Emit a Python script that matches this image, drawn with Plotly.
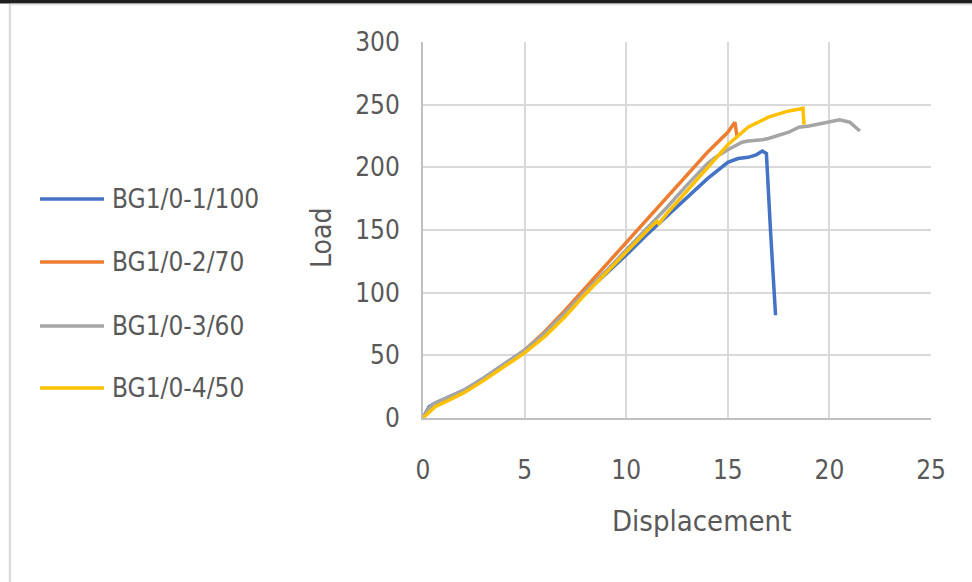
import plotly.graph_objects as go

# ---- data ----
series_names = ["BG1/0-1/100", "BG1/0-2/70", "BG1/0-3/60", "BG1/0-4/50"]

blue_x = [0, 0.3, 0.6, 1, 2, 3, 4, 5, 6, 7, 8, 9, 10, 11, 12, 13, 14, 15, 15.5, 16, 16.4, 16.7, 16.9, 17.1, 17.35]
blue_y = [0, 9, 12, 15, 22, 32, 43, 54, 67, 83, 100, 115, 130, 146, 161, 176, 191, 204, 207, 208, 210, 213, 211, 150, 82]

orange_x = [0, 0.3, 0.6, 1, 2, 3, 4, 5, 6, 7, 8, 9, 10, 11, 12, 13, 14, 15, 15.35, 15.45]
orange_y = [0, 7, 11, 14, 21, 31, 42, 54, 69, 86, 104, 122, 140, 158, 177, 195, 212, 228, 236, 225]

gray_x = [0, 0.3, 0.6, 1, 2, 3, 4, 5, 6, 7, 8, 9, 10, 11, 12, 13, 14, 14.4, 15, 15.7, 16, 16.7, 17, 18, 18.5, 19, 20, 20.5, 21, 21.5]
gray_y = [0, 8, 12, 15, 22, 32, 43, 54, 68, 84, 101, 117, 134, 151, 168, 186, 203, 208, 214, 220, 221, 222, 223, 228, 232, 233, 236, 238, 236, 229]

yellow_x = [0, 0.3, 0.6, 1, 2, 3, 4, 5, 6, 7, 8, 9, 10, 11, 11.5, 11.6, 12, 13, 14, 15, 16, 17, 18, 18.7, 18.75]
yellow_y = [0, 5, 9, 12, 20, 30, 41, 52, 65, 81, 99, 116, 133, 149, 157, 155, 163, 181, 199, 218, 232, 240, 245, 247, 234]

x_ticks = [0, 5, 10, 15, 20, 25]
y_ticks = [0, 50, 100, 150, 200, 250, 300]

colors = ["#4472C4", "#ED7D31", "#A5A5A5", "#FFC000"]
xs = [blue_x, orange_x, gray_x, yellow_x]
ys = [blue_y, orange_y, gray_y, yellow_y]

W, H = 972, 582
ML, MR, MT, MB = 423, 41, 42, 164
PW, PH = W - ML - MR, H - MT - MB

FONT = "DejaVu Sans Condensed, Liberation Sans Narrow, Liberation Sans, Arial, sans-serif"
TXT = "#595959"

def px_x(p):
    return (p - ML) / PW

def px_y(p):
    return (H - MB - p) / PH

fig = go.Figure()
for name, x, y, c in zip(series_names, xs, ys, colors):
    fig.add_trace(go.Scatter(x=x, y=y, mode="lines", name=name,
                             line=dict(color=c, width=3.5), showlegend=False))

shapes = []
annotations = []
legend_y = [199, 262, 326, 388]
for name, c, ly in zip(series_names, colors, legend_y):
    shapes.append(dict(type="line", xref="paper", yref="paper",
                       x0=px_x(40), x1=px_x(104), y0=px_y(ly), y1=px_y(ly),
                       line=dict(color=c, width=3.5)))
    annotations.append(dict(text=name, xref="paper", yref="paper",
                            x=px_x(110), y=px_y(ly), xanchor="left", yanchor="middle",
                            showarrow=False, font=dict(family=FONT, size=26, color=TXT)))

# frame decorations (top dark band, light left line)
shapes.append(dict(type="rect", xref="paper", yref="paper", x0=px_x(0), x1=px_x(W),
                   y0=px_y(-2), y1=px_y(3.5), fillcolor="#1e1e1e", line=dict(width=0), layer="above"))
shapes.append(dict(type="line", xref="paper", yref="paper", x0=px_x(10), x1=px_x(W),
                   y0=px_y(4.5), y1=px_y(4.5), line=dict(color="#e0e0e0", width=1.5)))
shapes.append(dict(type="line", xref="paper", yref="paper", x0=px_x(10), x1=px_x(10),
                   y0=px_y(4), y1=px_y(H), line=dict(color="#dcdcdc", width=2.5)))

# axis titles
annotations.append(dict(text="Load", xref="paper", yref="paper", x=px_x(322), y=px_y(238),
                        xanchor="center", yanchor="middle", textangle=-90, showarrow=False,
                        font=dict(family=FONT, size=28, color=TXT)))
annotations.append(dict(text="Displacement", xref="paper", yref="paper", x=px_x(701), y=px_y(521),
                        xanchor="center", yanchor="middle", showarrow=False,
                        font=dict(family=FONT, size=29, color=TXT)))

fig.update_layout(
    width=W, height=H,
    margin=dict(l=ML, r=MR, t=MT, b=MB),
    paper_bgcolor="white", plot_bgcolor="white",
    shapes=shapes, annotations=annotations,
    showlegend=False,
    xaxis=dict(range=[0, 25], tickvals=x_ticks, ticktext=[str(v) for v in x_ticks],
               showgrid=True, gridcolor="#d9d9d9", gridwidth=2,
               showline=True, linecolor="#bfbfbf", linewidth=2, mirror=False,
               zeroline=False, ticks="", ticklabelstandoff=28,
               tickfont=dict(family=FONT, size=26, color=TXT)),
    yaxis=dict(range=[0, 300], tickvals=y_ticks, ticktext=[str(v) for v in y_ticks],
               showgrid=True, gridcolor="#d9d9d9", gridwidth=2,
               showline=True, linecolor="#bfbfbf", linewidth=2,
               zeroline=False, ticks="", ticklabelstandoff=16,
               tickfont=dict(family=FONT, size=26, color=TXT)),
)

fig.write_html("out.html", config={"displayModeBar": False},
               post_script="document.body.style.margin='0';document.body.style.overflow='hidden';")
